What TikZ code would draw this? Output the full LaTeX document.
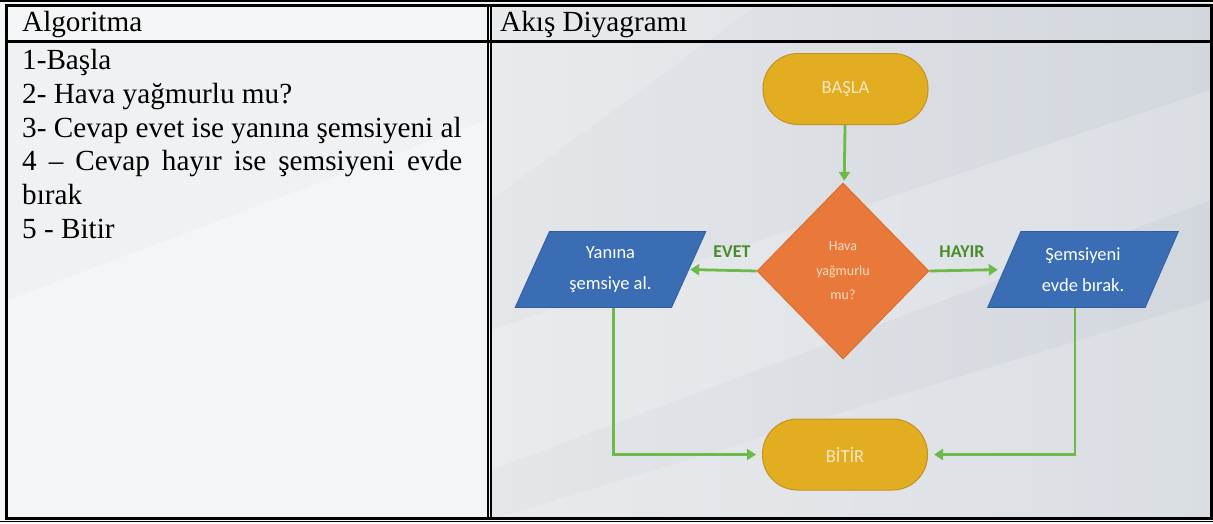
\documentclass[tikz,border=0pt]{standalone}
\usepackage{fontspec}
\setmainfont{Liberation Serif}
\newfontfamily\calib{Carlito}
\usetikzlibrary{shapes.geometric,arrows.meta,calc}
\definecolor{goldC}{HTML}{E3AD22}
\definecolor{goldD}{HTML}{C4921C}
\definecolor{goldT}{HTML}{F6E8C4}
\definecolor{orangeC}{HTML}{E8793A}
\definecolor{orangeD}{HTML}{D96A2C}
\definecolor{orangeT}{HTML}{FADCC6}
\definecolor{blueC}{HTML}{3A6DB4}
\definecolor{blueD}{HTML}{2F5E9F}
\definecolor{greenC}{HTML}{6CBB4A}
\definecolor{greenT}{HTML}{4A8B2C}
\definecolor{bgL}{HTML}{F4F5F6}
\definecolor{bgR1}{HTML}{E4E6E9}
\definecolor{bgR2}{HTML}{D2D7DE}
\begin{document}
\begin{tikzpicture}[x=1pt,y=-1pt,
  pill/.style={draw=goldD, fill=goldC, line width=1pt, rounded corners=35pt,
    minimum width=165pt, minimum height=71pt, inner sep=0pt,
    text=goldT, font=\calib\fontsize{18.5}{22}\selectfont},
  dia/.style={diamond, draw=orangeD, fill=orangeC, line width=0.8pt,
    minimum width=172pt, minimum height=176pt, inner sep=0pt, align=center,
    text=orangeT, font=\calib\fontsize{14}{24.5}\selectfont},
  para/.style={trapezium, trapezium left angle=63.4, trapezium right angle=116.6,
    trapezium stretches=true, minimum width=191pt, minimum height=76pt,
    fill=blueC, draw=blueD, line width=0.8pt, inner sep=0pt, align=center,
    text=white, font=\calib\fontsize{18.5}{31}\selectfont},
  arr/.style={draw=greenC, line width=2.8pt, -{Triangle[length=9pt,width=11pt]}},
  lbl/.style={text=greenT, font=\calib\bfseries\fontsize{18}{22}\selectfont, inner sep=0pt},
  algo/.style={anchor=base west, inner sep=0pt, font=\fontsize{29.2}{33.8}\selectfont},
  frame/.style={draw=black, line width=3pt}
]
\useasboundingbox (0,0) rectangle (1213,523);
% backgrounds
\fill[bgL] (0,0) rectangle (1213,523);
\shade[left color=bgR1, right color=bgR2] (491,3) rectangle (1211,519);
\fill[white, opacity=0.2] (491,330) -- (1211,90) -- (1211,200) -- (491,470) -- cycle;
\fill[white, opacity=0.18] (491,520) -- (1211,300) -- (1211,520) -- cycle;
\fill[white, opacity=0.18] (491,3) -- (760,3) -- (491,200) -- cycle;
\fill[black, opacity=0.015] (8,43) -- (486,43) -- (486,120) -- (8,300) -- cycle;
% table lines
\draw[frame] (6,5) rectangle (1211,518);
\draw[line width=1.5pt] (0,1) -- (1213,1);
\draw[line width=1.5pt] (0,521.5) -- (1213,521.5);
\draw[line width=2pt] (487.5,5) -- (487.5,518);
\draw[line width=2pt] (491,5) -- (491,518);
\draw[line width=3pt] (6,41) -- (1211,41);
% header texts
\node[algo] (h1) at (22,31) {Algoritma};
\node[algo] (h2) at (500,31) {Akış Diyagramı};
% algorithm lines
\node[algo] (l1) at (22,69.5) {1-Başla};
\node[algo] (l2) at (22,103.3) {2- Hava yağmurlu mu?};
\node[algo] (l3) at (22,137.1) {3- Cevap evet ise yanına şemsiyeni al};
\node[algo] (l4) at (22,170.9) {\makebox[440pt][s]{4 – Cevap hayır ise şemsiyeni evde}};
\node[algo] (l5) at (22,204.7) {bırak};
\node[algo] (l6) at (22,238.5) {5 - Bitir};
% flowchart
\node[pill] (bas) at (845.5,89) {BAŞLA};
\node[dia] (dec) at (843,271) {Hava\\yağmurlu\\mu?};
\node[para] (yan) at (610.5,269.5) {Yanına\\şemsiye al.};
\node[para] (sem) at (1083,269.5) {Şemsiyeni\\evde bırak.};
\node[pill] (bit) at (845,454.5) {BİTİR};
\node[lbl] (evet) at (732,252) {EVET};
\node[lbl] (hayir) at (962,252) {HAYIR};
\draw[arr, shorten >=3pt] (bas) -- (dec);
\draw[arr, shorten >=1pt] (dec.west) -- (yan.east);
\draw[arr, shorten >=6pt] (dec.east) -- (sem.west);
\draw[arr, shorten >=6pt] ([xshift=3pt]yan.south) |- (bit.west);
\draw[arr, shorten >=6pt] ([xshift=-8pt]sem.south) |- (bit.east);
\end{tikzpicture}
\end{document}
